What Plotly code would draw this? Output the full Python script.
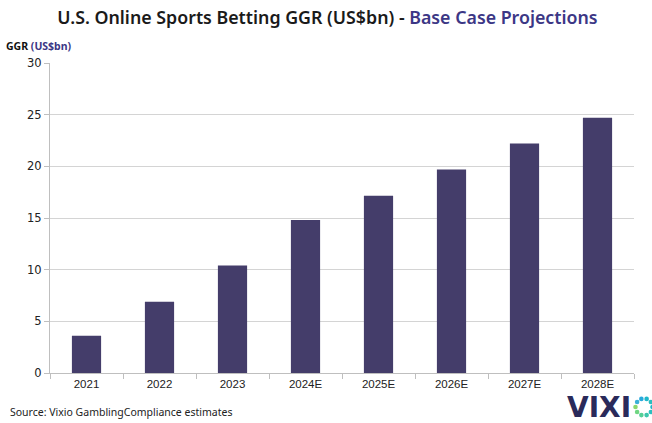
import plotly.graph_objects as go
import math

categories = ["2021", "2022", "2023", "2024E", "2025E", "2026E", "2027E", "2028E"]
ggr_values = [3.6, 6.9, 10.4, 14.8, 17.15, 19.7, 22.2, 24.7]
y_ticks = [0, 5, 10, 15, 20, 25, 30]

BAR = "#443d6a"
PURPLE = "#3c3785"
GRID = "#d4d4d4"
AXIS = "#bfbfbf"

fig = go.Figure(go.Bar(x=categories, y=ggr_values, marker=dict(color=BAR, line=dict(width=0)),
                       width=0.4, hoverinfo="x+y"))

fig.update_layout(
    width=652, height=423,
    margin=dict(l=50, r=18, t=63, b=50),
    paper_bgcolor="white", plot_bgcolor="white",
    showlegend=False,
    title=dict(
        text="U.S. Online Sports Betting GGR (US$bn) - <span style='color:%s'>Base Case Projections</span>" % PURPLE,
        x=(58 + 597) / 2 / 652, xanchor="center", y=0.957, yanchor="middle",
        font=dict(family="Noto Sans", size=17.8, color="#1a1a1a", weight=600),
    ),
    xaxis=dict(
        type="category", showgrid=False, showline=True, linecolor=AXIS, linewidth=1,
        ticks="outside", tickson="boundaries", ticklen=5, tickcolor=AXIS,
        tickfont=dict(family="Liberation Sans", size=11.5, color="#222"),
    ),
    yaxis=dict(
        range=[0, 30], tickvals=y_ticks, showgrid=True, gridcolor=GRID, gridwidth=1,
        showline=True, linecolor=AXIS, linewidth=1, ticks="outside", ticklen=5, tickcolor=AXIS,
        tickfont=dict(family="DejaVu Sans", size=11.5, color="#222"), zeroline=False,
    ),
)

fig.add_annotation(
    text="<b>GGR <span style='color:%s'>(US$bn)</span></b>" % PURPLE,
    xref="paper", yref="paper", x=-46 / 584, y=1 + 17 / 310, xanchor="left", yanchor="middle",
    showarrow=False, font=dict(family="Noto Sans", size=10.5, color="#111"),
)
fig.add_annotation(
    text="Source: Vixio GamblingCompliance estimates",
    xref="paper", yref="paper", x=-42 / 584, y=-39 / 310, xanchor="left", yanchor="middle",
    showarrow=False, font=dict(family="Noto Sans", size=10.5, color="#222"),
)
# VIXIO logo text
fig.add_annotation(
    text="<b>VIXI</b>",
    xref="paper", yref="paper", x=(565 - 50) / 584, y=-(408 - 373) / 310, xanchor="left", yanchor="middle",
    showarrow=False, font=dict(family="DejaVu Sans", size=28, color="#2a2a5a"),
)
# "O" of logo as a ring of dots
cx, cy, rr = 644, 407, 8.5
dot_colors = ["#1fb7c9", "#2abfc0", "#3cc7ad", "#55cf98", "#6fd682", "#8ad86e", "#3ab0d8", "#28a9dc",
              "#1fb7c9", "#2abfc0"]
n = 10
for i in range(n):
    a = 2 * math.pi * i / n
    px = cx + rr * math.cos(a)
    py = cy + rr * math.sin(a)
    r = 2.3
    fig.add_shape(type="circle", xref="paper", yref="paper",
                  x0=(px - r - 50) / 584, x1=(px + r - 50) / 584,
                  y0=(373 - py - r) / 310, y1=(373 - py + r) / 310,
                  fillcolor=dot_colors[i], line=dict(width=0))

fig.write_html("out.html", config={"displayModeBar": False},
               post_script="document.body.style.margin='0';document.body.style.overflow='hidden';")
